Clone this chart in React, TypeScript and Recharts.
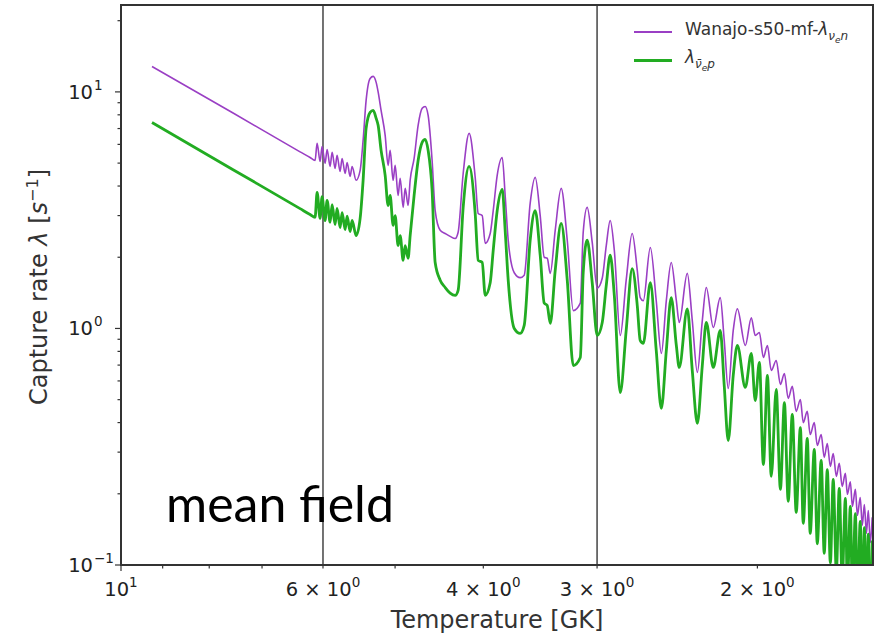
import React from "react";
import { LineChart, Line, XAxis, YAxis, ReferenceLine } from "recharts";

// temperature [GK]
const temperature = [
  9.246, 7.532, 6.358, 6.199, 6.121,
  6.09, 6.044, 6.014, 5.968, 5.938, 5.893, 5.863, 5.819, 5.79, 5.746, 5.717, 5.673, 5.645, 5.602, 5.574, 5.518,
  5.462, 5.421, 5.38, 5.326, 5.285, 5.245, 5.219, 5.18, 5.127,
  5.089, 5.063, 5.025, 4.999, 4.962, 4.936, 4.899, 4.874, 4.838, 4.813,
  4.765, 4.717, 4.669, 4.634, 4.599, 4.553, 4.518, 4.461, 4.405, 4.35, 4.295, 4.263,
  4.209, 4.146, 4.083, 4.052, 4.011, 3.981, 3.931, 3.901, 3.862, 3.813, 3.785, 3.756, 3.699, 3.644, 3.607,
  3.553, 3.508, 3.464, 3.429, 3.403, 3.377, 3.335, 3.285, 3.235, 3.186, 3.13, 3.107, 3.076, 3.037, 2.999,
  2.961, 2.931, 2.902, 2.872, 2.829, 2.787, 2.745, 2.71, 2.69, 2.669, 2.622, 2.583, 2.55,
  2.518, 2.487, 2.455, 2.437, 2.388, 2.358, 2.328, 2.299, 2.276, 2.236, 2.197, 2.175, 2.153, 2.126, 2.104, 2.062, 2.031, 2.011,
  1.99, 1.97, 1.95, 1.931, 1.907, 1.887, 1.868, 1.85, 1.831, 1.813, 1.794, 1.781, 1.763, 1.75, 1.732, 1.719, 1.702, 1.689,
  1.676, 1.663, 1.651, 1.638, 1.626, 1.614, 1.601, 1.593, 1.581, 1.573, 1.561, 1.553, 1.542, 1.534, 1.526, 1.518, 1.511,
  1.503, 1.496,
];

// Wanajo-s50-mf lambda(nu_e n) [1/s]
const rateNuN = [
  12.8, 8.14, 5.58, 5.28, 5.13,
  6.06, 5.08, 5.88, 4.99, 5.71, 4.84, 5.55, 4.75, 5.39, 4.61, 5.23, 4.52, 5.03, 4.39, 4.84, 4.23,
  4.66, 6.24, 9.21, 11.4, 11.63, 10.97, 10.0, 8.35, 6.55,
  4.89, 5.66, 4.23, 4.89, 3.65, 4.31, 3.25, 3.91, 3.31, 4.23,
  5.23, 7.22, 8.52, 8.68, 7.96, 5.13, 3.15, 2.6, 2.52, 2.45, 2.4, 2.55,
  4.52, 6.68, 4.35, 3.06, 3.0, 2.29, 2.52, 3.15, 4.44, 5.28, 3.65, 2.36, 1.72, 1.64, 1.68,
  3.38, 4.35, 3.0, 2.0, 1.98, 1.71, 2.6, 3.91, 2.36, 1.19, 1.28, 2.55, 3.25, 2.31, 1.48,
  1.63, 2.24, 2.86, 2.14, 0.934, 1.6, 2.52, 1.76, 1.35, 1.31, 2.2, 1.31, 0.784,
  1.31, 1.9, 1.31, 1.06, 1.71, 1.08, 0.652, 1.08, 1.49, 1.01, 1.35, 0.89, 0.557, 0.981, 1.21, 0.847, 1.11, 0.934,
  0.962, 0.754, 0.847, 0.664, 0.732, 0.58, 0.645, 0.506, 0.569, 0.446, 0.501, 0.4, 0.446, 0.356, 0.4, 0.32, 0.356, 0.285,
  0.326, 0.261, 0.296, 0.237, 0.269, 0.215, 0.244, 0.199, 0.225, 0.177, 0.209, 0.162, 0.193, 0.147, 0.18, 0.136, 0.17,
  0.1245, 0.159,
];

// lambda(anti-nu_e p) [1/s]
const rateNubarP = [
  7.43, 4.69, 3.21, 3.03, 2.95,
  3.76, 2.92, 3.61, 2.86, 3.48, 2.81, 3.34, 2.75, 3.22, 2.67, 3.09, 2.62, 2.98, 2.57, 2.86, 2.47,
  2.92, 4.23, 7.01, 8.19, 8.35, 7.73, 7.22, 5.66, 4.44,
  3.31, 3.65, 2.73, 3.0, 2.24, 2.47, 1.94, 2.24, 1.98, 2.47,
  3.65, 5.13, 6.12, 6.3, 5.66, 3.83, 1.9, 1.6, 1.49, 1.41, 1.38, 1.45,
  3.25, 4.84, 3.06, 1.94, 1.9, 1.38, 1.56, 2.14, 3.15, 3.87, 2.6, 1.6, 1.0, 0.953, 1.03,
  2.36, 3.15, 2.04, 1.28, 1.25, 1.05, 1.76, 2.78, 1.6, 0.697, 0.754, 1.72, 2.36, 1.56, 0.934,
  1.06, 1.52, 2.04, 1.38, 0.536, 0.981, 1.79, 1.25, 0.89, 0.864, 1.56, 0.807, 0.459,
  0.807, 1.35, 0.847, 0.684, 1.21, 0.664, 0.397, 0.697, 1.06, 0.684, 0.981, 0.574, 0.336, 0.633, 0.847, 0.563, 0.784, 0.496,
  0.718, 0.266, 0.633, 0.237, 0.552, 0.209, 0.486, 0.186, 0.433, 0.167, 0.381, 0.15, 0.343, 0.136, 0.308, 0.123, 0.277, 0.112,
  0.253, 0.102, 0.23, 0.0939, 0.211, 0.086, 0.191, 0.0803, 0.177, 0.0743, 0.165, 0.0694, 0.153, 0.0642, 0.144, 0.0606, 0.135,
  0.0571, 0.127,
];

const xTicks = [10, 9, 8, 7, 6, 5, 4, 3, 2];
const xTickLabels: Record<number, [string, string]> = {
  10: ["10", "1"],
  6: ["6 × 10", "0"],
  4: ["4 × 10", "0"],
  3: ["3 × 10", "0"],
  2: ["2 × 10", "0"],
};
const yTicks = [0.1, 0.2, 0.3, 0.4, 0.5, 0.6, 0.7, 0.8, 0.9, 1, 2, 3, 4, 5, 6, 7, 8, 9, 10, 20];
const yTickLabels: Record<string, string> = { "0.1": "−1", "1": "0", "10": "1" };

const data = temperature.map((t, i) => ({ T: t, nuN: rateNuN[i], nubarP: rateNubarP[i] }));

const FONT = "'DejaVu Sans', sans-serif";
const PURPLE = "#9a3fc4";
const GREEN = "#22ac22";
const AXIS = "#333";

const XTick = (props: any) => {
  const { x, y, payload } = props;
  const lab = xTickLabels[payload.value];
  const len = payload.value === 10 ? 6 : 3.5;
  return (
    <g>
      <line x1={x} x2={x} y1={y} y2={y + len} stroke={AXIS} strokeWidth={1.2} />
      {lab && (
        <text x={x} y={y + 31} textAnchor="middle" fontSize={19.5} fill="#222" fontFamily={FONT}>
          {lab[0]}
          <tspan dy={-9} fontSize={13.5}>{lab[1]}</tspan>
        </text>
      )}
    </g>
  );
};

const YTick = (props: any) => {
  const { x, y, payload } = props;
  const lab = yTickLabels[String(payload.value)];
  const len = lab ? 6 : 3.5;
  return (
    <g>
      <line x1={x - len} x2={x} y1={y} y2={y} stroke={AXIS} strokeWidth={1.2} />
      {lab && (
        <text x={x - 28} y={y + 7} textAnchor="end" fontSize={19.5} fill="#222" fontFamily={FONT}>
          10
        </text>
      )}
      {lab && (
        <text x={x - 27} y={y - 2} textAnchor="start" fontSize={13.5} fill="#222" fontFamily={FONT}>
          {lab}
        </text>
      )}
    </g>
  );
};

export default function App() {
  return (
    <div style={{ position: "absolute", left: 0, top: 0, width: 884, height: 641, background: "#fff" }}>
      <LineChart width={884} height={641} data={data} margin={{ top: 5, right: 11, bottom: 36, left: 0 }}>
        <XAxis
          dataKey="T"
          type="number"
          scale="log"
          domain={[1.493, 10]}
          reversed
          allowDataOverflow
          ticks={xTicks}
          interval={0}
          tick={<XTick />}
          tickSize={0}
          tickMargin={0}
          tickLine={false}
          axisLine={false}
          height={40}
        />
        <YAxis
          type="number"
          scale="log"
          domain={[0.1, 23.3]}
          allowDataOverflow
          ticks={yTicks}
          interval={0}
          tick={<YTick />}
          tickSize={0}
          tickMargin={0}
          tickLine={false}
          axisLine={false}
          width={121}
        />
        <ReferenceLine x={6} stroke="#444" strokeWidth={1.5} />
        <ReferenceLine x={3} stroke="#444" strokeWidth={1.5} />
        <Line type="monotone" dataKey="nuN" stroke={PURPLE} strokeWidth={1.6} dot={false} isAnimationActive={false} />
        <Line type="monotone" dataKey="nubarP" stroke={GREEN} strokeWidth={2.8} dot={false} isAnimationActive={false} />
      </LineChart>

      {/* axes frame */}
      <div
        style={{
          position: "absolute",
          left: 120,
          top: 4,
          width: 754,
          height: 562,
          boxSizing: "border-box",
          border: `2px solid ${AXIS}`,
          pointerEvents: "none",
        }}
      />

      {/* legend */}
      <div style={{ position: "absolute", left: 634, top: 18, fontFamily: FONT, fontSize: 17, color: "#333" }}>
        <div style={{ display: "flex", alignItems: "center", height: 28 }}>
          <span style={{ display: "inline-block", width: 38, height: 2, background: PURPLE, marginRight: 13 }} />
          <span>
            Wanajo-s50-mf-<i>λ</i>
            <sub style={{ fontSize: 12 }}>
              <i>ν</i>
              <sub style={{ fontSize: 9 }}>
                <i>e</i>
              </sub>
              <i>n</i>
            </sub>
          </span>
        </div>
        <div style={{ display: "flex", alignItems: "center", height: 28 }}>
          <span style={{ display: "inline-block", width: 38, height: 3, background: GREEN, marginRight: 13 }} />
          <span>
            <i>λ</i>
            <sub style={{ fontSize: 12 }}>
              <i>ν̄</i>
              <sub style={{ fontSize: 9 }}>
                <i>e</i>
              </sub>
              <i>p</i>
            </sub>
          </span>
        </div>
      </div>

      {/* axis labels */}
      <div
        style={{
          position: "absolute",
          left: 38,
          top: 287,
          transform: "translate(-50%, -50%) rotate(-90deg)",
          whiteSpace: "nowrap",
          fontFamily: FONT,
          fontSize: 24,
          color: "#333",
        }}
      >
        Capture rate <i>λ</i> [<i>s</i>
        <sup style={{ fontSize: 16 }}>−1</sup>]
      </div>
      <div
        style={{
          position: "absolute",
          left: 497,
          top: 620,
          transform: "translate(-50%, -50%)",
          whiteSpace: "nowrap",
          fontFamily: FONT,
          fontSize: 24,
          color: "#333",
        }}
      >
        Temperature [GK]
      </div>

      {/* annotation */}
      <div
        style={{
          position: "absolute",
          left: 166,
          top: 478,
          fontFamily: "Lato, sans-serif",
          fontSize: 50,
          lineHeight: 1,
          color: "#000",
          whiteSpace: "nowrap",
        }}
      >
        mean field
      </div>
    </div>
  );
}
